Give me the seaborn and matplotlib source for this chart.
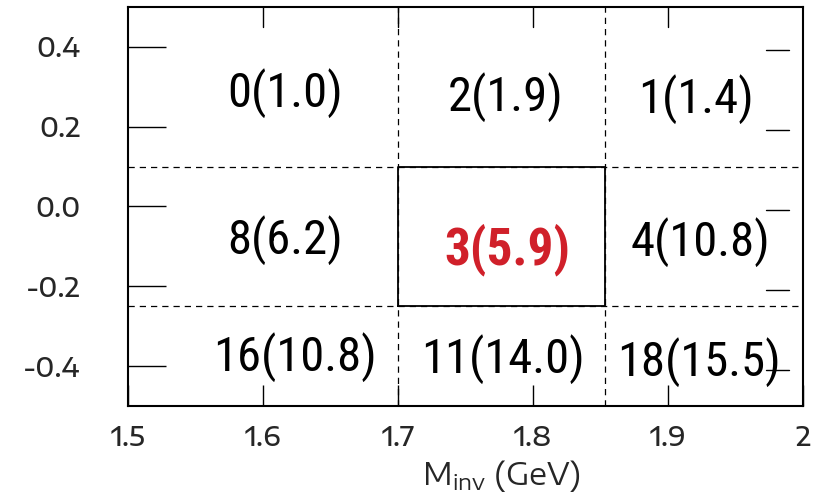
import matplotlib
matplotlib.use("Agg")
import matplotlib.pyplot as plt
import matplotlib.transforms as mtransforms
import pandas as pd
import seaborn as sns

# bin edges of the (M_inv, y) grid
x_edges = [1.5, 1.7, 1.853, 2.0]
y_edges = [-0.5, -0.25, 0.1, 0.5]

# cell labels: count(expected)
counts = [0, 2, 1, 8, 3, 4, 16, 11, 18]
expected = [1.0, 1.9, 1.4, 6.2, 5.9, 10.8, 10.8, 14.0, 15.5]
label_x = [1.616, 1.780, 1.921, 1.616, 1.781, 1.924, 1.624, 1.778, 1.923]
label_y = [0.285, 0.275, 0.268, -0.083, -0.108, -0.088, -0.378, -0.383, -0.390]
highlight = 4  # index of the signal cell

x_ticks = [1.5, 1.6, 1.7, 1.8, 1.9, 2.0]
x_ticklabels = ["1.5", "1.6", "1.7", "1.8", "1.9", "2"]
y_ticks = [-0.4, -0.2, 0.0, 0.2, 0.4]
y_ticklabels = ["-0.4", "-0.2", "0.0", "0.2", "0.4"]

sns.set_theme(style="white")
plt.rcParams["font.family"] = ["Encode Sans Expanded", "DejaVu Sans"]
plt.rcParams["font.weight"] = 500
plt.rcParams["mathtext.fontset"] = "custom"
plt.rcParams["mathtext.rm"] = "Encode Sans Expanded:medium"

cell_font = ["Roboto Condensed", "DejaVu Sans"]

fig = plt.figure(figsize=(8.27, 4.96), dpi=100)
ax = fig.add_axes([0.1548, 0.1815, 0.8162, 0.8044])

# dashed bin boundaries
dash_df = pd.concat([
    pd.DataFrame({"x": [xe, xe], "y": [y_edges[0], y_edges[-1]], "id": f"v{i}"})
    for i, xe in enumerate(x_edges[1:-1])
] + [
    pd.DataFrame({"x": [x_edges[0], x_edges[-1]], "y": [ye, ye], "id": f"h{i}"})
    for i, ye in enumerate(y_edges[1:-1])
])
sns.lineplot(data=dash_df, x="x", y="y", units="id", estimator=None, sort=False,
             color="black", lw=0.9, ax=ax, zorder=2)
for line in ax.lines:
    line.set_dashes([5, 4])

# solid box around the signal cell
box = pd.DataFrame({
    "x": [x_edges[1], x_edges[2], x_edges[2], x_edges[1], x_edges[1]],
    "y": [y_edges[1], y_edges[1], y_edges[2], y_edges[2], y_edges[1]],
})
sns.lineplot(data=box, x="x", y="y", sort=False, estimator=None,
             color="black", lw=1.3, ax=ax, zorder=3)

for i, (c, e) in enumerate(zip(counts, expected)):
    txt = f"{c}({e:.1f})"
    if i == highlight:
        ax.text(label_x[i], label_y[i], txt, ha="center", va="center",
                fontsize=37, color="#d0202a", fontweight="bold", family=cell_font)
    else:
        ax.text(label_x[i], label_y[i], txt, ha="center", va="center",
                fontsize=35, color="black", fontweight="normal", family=cell_font)

ax.set_xlim(x_edges[0], x_edges[-1])
ax.set_ylim(y_edges[0], y_edges[-1])
ax.set_xticks(x_ticks)
ax.set_xticklabels(x_ticklabels, fontsize=19)
ax.set_yticks(y_ticks)
ax.set_yticklabels(y_ticklabels, fontsize=19)
ax.tick_params(axis="x", direction="in", length=15, width=1, top=False,
               bottom=True, pad=14, color="black")
ax.tick_params(axis="y", direction="in", length=27, width=1, left=True,
               right=False, pad=34, color="black")
ax.set_xlabel(r"M$_{\mathregular{inv}}$ (GeV)", fontsize=22)
ax.xaxis.set_label_coords(0.553, -0.13)
ax.set_ylabel("")

# longer ticks along the top
ttop = mtransforms.blended_transform_factory(ax.transData, ax.transAxes)
for xt in x_ticks[1:-1]:
    ax.plot([xt, xt], [1.0, 0.95], color="black", lw=1, transform=ttop, zorder=4)

# detached ticks on the right side
tright = mtransforms.blended_transform_factory(ax.transAxes, ax.transData)
for yt in y_ticks:
    ax.plot([0.945, 0.979], [yt - 0.009, yt - 0.009], color="black", lw=1,
            transform=tright, zorder=4)

for s in ax.spines.values():
    s.set_color("black")
    s.set_linewidth(1.5)

fig.savefig("out.png", dpi=100, facecolor="white")
